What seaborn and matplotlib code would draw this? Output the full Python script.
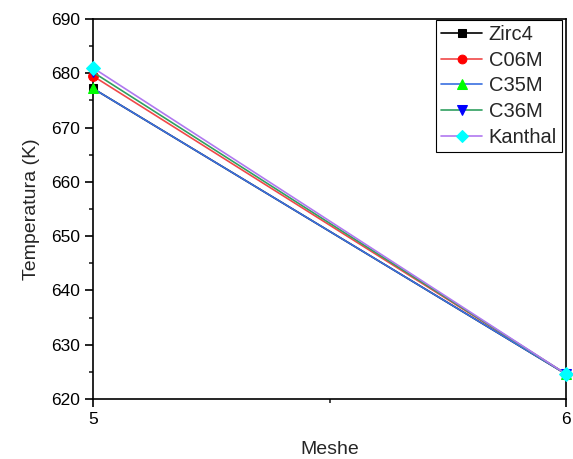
import matplotlib
matplotlib.use("Agg")
import matplotlib.pyplot as plt
import seaborn as sns
import pandas as pd
from matplotlib.ticker import MultipleLocator

sns.set_style("ticks")
plt.rcParams['font.family'] = ['Liberation Sans', 'DejaVu Sans']

meshes = [5, 6]
series_names = ["Zirc4", "C06M", "C35M", "C36M", "Kanthal"]
zirc4 = [677.2, 624.6]
c06m = [679.5, 624.6]
c35m = [677.2, 624.6]
c36m = [680.2, 624.6]
kanthal = [681.0, 624.6]
values = [zirc4, c06m, c35m, c36m, kanthal]

line_colors = ["#000000", "#f04848", "#3a70e0", "#30a060", "#b078f0"]
marker_colors = ["#000000", "#ff0000", "#00ff00", "#0000ff", "#00ffff"]
markers = ["s", "o", "^", "v", "D"]
msizes = [6, 7, 7.5, 7.5, 7]

fig = plt.figure(figsize=(5.73, 4.59), dpi=100)
ax = fig.add_axes([93/573, 1 - 399/459, (566-93)/573, (399-19)/459])

for name, vals, lc, mc, mk, ms in zip(series_names, values, line_colors, marker_colors, markers, msizes):
    df = pd.DataFrame({"Meshe": meshes, "T": vals})
    sns.lineplot(data=df, x="Meshe", y="T", ax=ax, color=lc, linewidth=1.2,
                 marker=mk, markersize=ms, markerfacecolor=mc, markeredgecolor=mc,
                 label=name, clip_on=False, zorder=3)

ax.set_xlim(5, 6)
ax.set_ylim(620, 690)
ax.xaxis.set_major_locator(MultipleLocator(1))
ax.xaxis.set_minor_locator(MultipleLocator(0.5))
ax.yaxis.set_major_locator(MultipleLocator(10))
ax.yaxis.set_minor_locator(MultipleLocator(5))
ax.tick_params(which='major', direction='out', length=6, width=1.2, labelsize=12.5, colors='black')
ax.tick_params(which='minor', direction='out', length=3, width=1.2)
for s in ax.spines.values():
    s.set_linewidth(1.2)
    s.set_color('black')
ax.set_xlabel("Meshe", fontsize=14, labelpad=10)
ax.set_ylabel("Temperatura (K)", fontsize=14, labelpad=8)

leg = ax.legend(loc='upper right', bbox_to_anchor=(1.0 - 3/473, 1.0), fontsize=14.5, frameon=True,
                fancybox=False, edgecolor='black', framealpha=1, handlelength=2.0,
                borderpad=0.25, labelspacing=0.33, handletextpad=0.35, borderaxespad=0.05,
                markerscale=0.9)
leg.get_frame().set_linewidth(0.8)

fig.savefig("out.png", dpi=100)
